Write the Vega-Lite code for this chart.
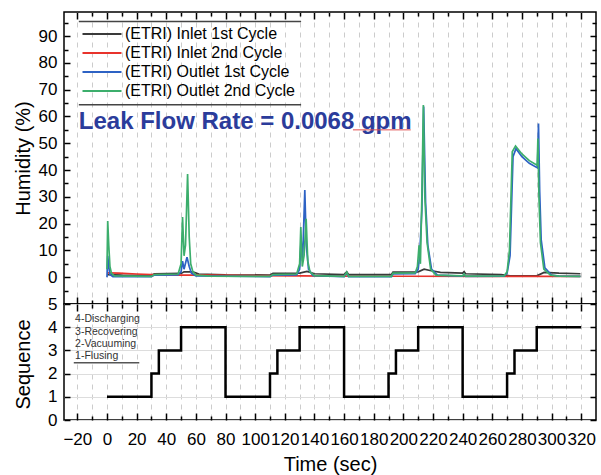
{
  "$schema": "https://vega.github.io/schema/vega-lite/v6.json",
  "padding": {"left": 12, "top": 10, "right": 5, "bottom": 5},
  "background": "white",
  "spacing": 0,
  "bounds": "flush",
  "config": {
    "font": "Liberation Sans",
    "view": {"stroke": "black", "strokeWidth": 1.5},
    "axis": {
      "labelFont": "Liberation Sans", "labelFontSize": 17, "labelColor": "black",
      "titleFont": "Liberation Sans", "titleFontSize": 20, "titleFontWeight": "normal", "titleColor": "black",
      "domain": false, "tickColor": "black", "tickWidth": 1.5, "grid": false
    }
  },
  "datasets": {
    "humidity": [
      {"series": "(ETRI) Inlet 1st Cycle", "time": 0, "humidity": 1.0},
      {"series": "(ETRI) Inlet 1st Cycle", "time": 10, "humidity": 0.8},
      {"series": "(ETRI) Inlet 1st Cycle", "time": 30, "humidity": 0.7},
      {"series": "(ETRI) Inlet 1st Cycle", "time": 32, "humidity": 1.3},
      {"series": "(ETRI) Inlet 1st Cycle", "time": 50, "humidity": 1.4},
      {"series": "(ETRI) Inlet 1st Cycle", "time": 52, "humidity": 2.0},
      {"series": "(ETRI) Inlet 1st Cycle", "time": 58, "humidity": 2.0},
      {"series": "(ETRI) Inlet 1st Cycle", "time": 62, "humidity": 1.2},
      {"series": "(ETRI) Inlet 1st Cycle", "time": 80, "humidity": 0.9},
      {"series": "(ETRI) Inlet 1st Cycle", "time": 110, "humidity": 0.8},
      {"series": "(ETRI) Inlet 1st Cycle", "time": 112, "humidity": 1.4},
      {"series": "(ETRI) Inlet 1st Cycle", "time": 130, "humidity": 1.5},
      {"series": "(ETRI) Inlet 1st Cycle", "time": 135, "humidity": 2.2},
      {"series": "(ETRI) Inlet 1st Cycle", "time": 140, "humidity": 1.3},
      {"series": "(ETRI) Inlet 1st Cycle", "time": 160, "humidity": 1.0},
      {"series": "(ETRI) Inlet 1st Cycle", "time": 161.8, "humidity": 2.0},
      {"series": "(ETRI) Inlet 1st Cycle", "time": 163, "humidity": 1.0},
      {"series": "(ETRI) Inlet 1st Cycle", "time": 192, "humidity": 1.0},
      {"series": "(ETRI) Inlet 1st Cycle", "time": 193, "humidity": 1.9},
      {"series": "(ETRI) Inlet 1st Cycle", "time": 210, "humidity": 2.0},
      {"series": "(ETRI) Inlet 1st Cycle", "time": 214, "humidity": 3.0},
      {"series": "(ETRI) Inlet 1st Cycle", "time": 218, "humidity": 2.5},
      {"series": "(ETRI) Inlet 1st Cycle", "time": 225, "humidity": 1.8},
      {"series": "(ETRI) Inlet 1st Cycle", "time": 240, "humidity": 1.5},
      {"series": "(ETRI) Inlet 1st Cycle", "time": 241, "humidity": 2.1},
      {"series": "(ETRI) Inlet 1st Cycle", "time": 242, "humidity": 1.3},
      {"series": "(ETRI) Inlet 1st Cycle", "time": 266, "humidity": 1.0},
      {"series": "(ETRI) Inlet 1st Cycle", "time": 272, "humidity": 0.5},
      {"series": "(ETRI) Inlet 1st Cycle", "time": 290, "humidity": 0.5},
      {"series": "(ETRI) Inlet 1st Cycle", "time": 295, "humidity": 1.8},
      {"series": "(ETRI) Inlet 1st Cycle", "time": 305, "humidity": 1.5},
      {"series": "(ETRI) Inlet 1st Cycle", "time": 319.5, "humidity": 1.3},

      {"series": "(ETRI) Inlet 2nd Cycle", "time": 0, "humidity": 1.6},
      {"series": "(ETRI) Inlet 2nd Cycle", "time": 8, "humidity": 1.5},
      {"series": "(ETRI) Inlet 2nd Cycle", "time": 20, "humidity": 1.2},
      {"series": "(ETRI) Inlet 2nd Cycle", "time": 30, "humidity": 1.0},
      {"series": "(ETRI) Inlet 2nd Cycle", "time": 50, "humidity": 0.8},
      {"series": "(ETRI) Inlet 2nd Cycle", "time": 70, "humidity": 0.8},
      {"series": "(ETRI) Inlet 2nd Cycle", "time": 100, "humidity": 0.6},
      {"series": "(ETRI) Inlet 2nd Cycle", "time": 130, "humidity": 0.5},
      {"series": "(ETRI) Inlet 2nd Cycle", "time": 160, "humidity": 0.4},
      {"series": "(ETRI) Inlet 2nd Cycle", "time": 200, "humidity": 0.35},
      {"series": "(ETRI) Inlet 2nd Cycle", "time": 260, "humidity": 0.3},
      {"series": "(ETRI) Inlet 2nd Cycle", "time": 319.5, "humidity": 0.3},

      {"series": "(ETRI) Outlet 1st Cycle", "time": 0, "humidity": 0.0},
      {"series": "(ETRI) Outlet 1st Cycle", "time": 0.5, "humidity": 8},
      {"series": "(ETRI) Outlet 1st Cycle", "time": 1.2, "humidity": 4},
      {"series": "(ETRI) Outlet 1st Cycle", "time": 2, "humidity": 1},
      {"series": "(ETRI) Outlet 1st Cycle", "time": 4, "humidity": 0.2},
      {"series": "(ETRI) Outlet 1st Cycle", "time": 30, "humidity": 0.2},
      {"series": "(ETRI) Outlet 1st Cycle", "time": 32, "humidity": 0.8},
      {"series": "(ETRI) Outlet 1st Cycle", "time": 48, "humidity": 0.9},
      {"series": "(ETRI) Outlet 1st Cycle", "time": 50, "humidity": 2},
      {"series": "(ETRI) Outlet 1st Cycle", "time": 51, "humidity": 6},
      {"series": "(ETRI) Outlet 1st Cycle", "time": 52, "humidity": 3},
      {"series": "(ETRI) Outlet 1st Cycle", "time": 54, "humidity": 7.5},
      {"series": "(ETRI) Outlet 1st Cycle", "time": 55.5, "humidity": 4},
      {"series": "(ETRI) Outlet 1st Cycle", "time": 57, "humidity": 1.5},
      {"series": "(ETRI) Outlet 1st Cycle", "time": 60, "humidity": 0.5},
      {"series": "(ETRI) Outlet 1st Cycle", "time": 110, "humidity": 0.2},
      {"series": "(ETRI) Outlet 1st Cycle", "time": 112, "humidity": 0.8},
      {"series": "(ETRI) Outlet 1st Cycle", "time": 128, "humidity": 0.9},
      {"series": "(ETRI) Outlet 1st Cycle", "time": 130, "humidity": 3},
      {"series": "(ETRI) Outlet 1st Cycle", "time": 131, "humidity": 14},
      {"series": "(ETRI) Outlet 1st Cycle", "time": 132, "humidity": 6},
      {"series": "(ETRI) Outlet 1st Cycle", "time": 133.5, "humidity": 32.5},
      {"series": "(ETRI) Outlet 1st Cycle", "time": 134.5, "humidity": 12},
      {"series": "(ETRI) Outlet 1st Cycle", "time": 136, "humidity": 3},
      {"series": "(ETRI) Outlet 1st Cycle", "time": 139, "humidity": 0.6},
      {"series": "(ETRI) Outlet 1st Cycle", "time": 160, "humidity": 0.2},
      {"series": "(ETRI) Outlet 1st Cycle", "time": 161.8, "humidity": 1.5},
      {"series": "(ETRI) Outlet 1st Cycle", "time": 163, "humidity": 0.2},
      {"series": "(ETRI) Outlet 1st Cycle", "time": 192, "humidity": 0.2},
      {"series": "(ETRI) Outlet 1st Cycle", "time": 193, "humidity": 1.2},
      {"series": "(ETRI) Outlet 1st Cycle", "time": 208, "humidity": 1.3},
      {"series": "(ETRI) Outlet 1st Cycle", "time": 210, "humidity": 3},
      {"series": "(ETRI) Outlet 1st Cycle", "time": 211, "humidity": 8},
      {"series": "(ETRI) Outlet 1st Cycle", "time": 212.5, "humidity": 25},
      {"series": "(ETRI) Outlet 1st Cycle", "time": 213.7, "humidity": 63.7},
      {"series": "(ETRI) Outlet 1st Cycle", "time": 215, "humidity": 28},
      {"series": "(ETRI) Outlet 1st Cycle", "time": 216.5, "humidity": 12},
      {"series": "(ETRI) Outlet 1st Cycle", "time": 219, "humidity": 3},
      {"series": "(ETRI) Outlet 1st Cycle", "time": 223, "humidity": 0.8},
      {"series": "(ETRI) Outlet 1st Cycle", "time": 240, "humidity": 0.4},
      {"series": "(ETRI) Outlet 1st Cycle", "time": 241, "humidity": 1.0},
      {"series": "(ETRI) Outlet 1st Cycle", "time": 242, "humidity": 0.3},
      {"series": "(ETRI) Outlet 1st Cycle", "time": 268, "humidity": 0.4},
      {"series": "(ETRI) Outlet 1st Cycle", "time": 270, "humidity": 1.5},
      {"series": "(ETRI) Outlet 1st Cycle", "time": 272, "humidity": 8},
      {"series": "(ETRI) Outlet 1st Cycle", "time": 274, "humidity": 45},
      {"series": "(ETRI) Outlet 1st Cycle", "time": 276, "humidity": 48},
      {"series": "(ETRI) Outlet 1st Cycle", "time": 280, "humidity": 45},
      {"series": "(ETRI) Outlet 1st Cycle", "time": 285, "humidity": 42.5},
      {"series": "(ETRI) Outlet 1st Cycle", "time": 290.5, "humidity": 40.8},
      {"series": "(ETRI) Outlet 1st Cycle", "time": 291.2, "humidity": 57.4},
      {"series": "(ETRI) Outlet 1st Cycle", "time": 292, "humidity": 32},
      {"series": "(ETRI) Outlet 1st Cycle", "time": 293, "humidity": 14},
      {"series": "(ETRI) Outlet 1st Cycle", "time": 295.5, "humidity": 3.5},
      {"series": "(ETRI) Outlet 1st Cycle", "time": 300, "humidity": 0.8},
      {"series": "(ETRI) Outlet 1st Cycle", "time": 305, "humidity": 0.4},
      {"series": "(ETRI) Outlet 1st Cycle", "time": 319.5, "humidity": 0.3},

      {"series": "(ETRI) Outlet 2nd Cycle", "time": 0, "humidity": 3},
      {"series": "(ETRI) Outlet 2nd Cycle", "time": 0.5, "humidity": 21},
      {"series": "(ETRI) Outlet 2nd Cycle", "time": 1.2, "humidity": 12},
      {"series": "(ETRI) Outlet 2nd Cycle", "time": 2, "humidity": 4},
      {"series": "(ETRI) Outlet 2nd Cycle", "time": 3, "humidity": 1.5},
      {"series": "(ETRI) Outlet 2nd Cycle", "time": 5, "humidity": 0.5},
      {"series": "(ETRI) Outlet 2nd Cycle", "time": 30, "humidity": 0.3},
      {"series": "(ETRI) Outlet 2nd Cycle", "time": 32, "humidity": 1.0},
      {"series": "(ETRI) Outlet 2nd Cycle", "time": 48, "humidity": 1.2},
      {"series": "(ETRI) Outlet 2nd Cycle", "time": 50, "humidity": 5},
      {"series": "(ETRI) Outlet 2nd Cycle", "time": 51, "humidity": 22.5},
      {"series": "(ETRI) Outlet 2nd Cycle", "time": 52, "humidity": 8},
      {"series": "(ETRI) Outlet 2nd Cycle", "time": 53, "humidity": 12},
      {"series": "(ETRI) Outlet 2nd Cycle", "time": 54.4, "humidity": 38.5},
      {"series": "(ETRI) Outlet 2nd Cycle", "time": 55.5, "humidity": 15},
      {"series": "(ETRI) Outlet 2nd Cycle", "time": 56.5, "humidity": 5},
      {"series": "(ETRI) Outlet 2nd Cycle", "time": 58, "humidity": 2},
      {"series": "(ETRI) Outlet 2nd Cycle", "time": 60, "humidity": 0.8},
      {"series": "(ETRI) Outlet 2nd Cycle", "time": 70, "humidity": 0.4},
      {"series": "(ETRI) Outlet 2nd Cycle", "time": 110, "humidity": 0.3},
      {"series": "(ETRI) Outlet 2nd Cycle", "time": 112, "humidity": 1.0},
      {"series": "(ETRI) Outlet 2nd Cycle", "time": 128, "humidity": 1.2},
      {"series": "(ETRI) Outlet 2nd Cycle", "time": 130, "humidity": 5},
      {"series": "(ETRI) Outlet 2nd Cycle", "time": 130.8, "humidity": 18.7},
      {"series": "(ETRI) Outlet 2nd Cycle", "time": 131.8, "humidity": 4},
      {"series": "(ETRI) Outlet 2nd Cycle", "time": 133, "humidity": 8},
      {"series": "(ETRI) Outlet 2nd Cycle", "time": 134.4, "humidity": 21.8},
      {"series": "(ETRI) Outlet 2nd Cycle", "time": 135.5, "humidity": 6},
      {"series": "(ETRI) Outlet 2nd Cycle", "time": 137, "humidity": 2},
      {"series": "(ETRI) Outlet 2nd Cycle", "time": 140, "humidity": 0.6},
      {"series": "(ETRI) Outlet 2nd Cycle", "time": 160, "humidity": 0.3},
      {"series": "(ETRI) Outlet 2nd Cycle", "time": 161.8, "humidity": 1.9},
      {"series": "(ETRI) Outlet 2nd Cycle", "time": 163, "humidity": 0.3},
      {"series": "(ETRI) Outlet 2nd Cycle", "time": 192, "humidity": 0.3},
      {"series": "(ETRI) Outlet 2nd Cycle", "time": 193, "humidity": 1.5},
      {"series": "(ETRI) Outlet 2nd Cycle", "time": 208, "humidity": 1.6},
      {"series": "(ETRI) Outlet 2nd Cycle", "time": 209.5, "humidity": 4},
      {"series": "(ETRI) Outlet 2nd Cycle", "time": 210.6, "humidity": 11.9},
      {"series": "(ETRI) Outlet 2nd Cycle", "time": 211.5, "humidity": 5},
      {"series": "(ETRI) Outlet 2nd Cycle", "time": 212.5, "humidity": 30},
      {"series": "(ETRI) Outlet 2nd Cycle", "time": 213.5, "humidity": 64.3},
      {"series": "(ETRI) Outlet 2nd Cycle", "time": 214.5, "humidity": 30},
      {"series": "(ETRI) Outlet 2nd Cycle", "time": 216, "humidity": 13},
      {"series": "(ETRI) Outlet 2nd Cycle", "time": 218.4, "humidity": 3},
      {"series": "(ETRI) Outlet 2nd Cycle", "time": 222, "humidity": 0.8},
      {"series": "(ETRI) Outlet 2nd Cycle", "time": 240, "humidity": 0.5},
      {"series": "(ETRI) Outlet 2nd Cycle", "time": 241, "humidity": 1.2},
      {"series": "(ETRI) Outlet 2nd Cycle", "time": 242, "humidity": 0.4},
      {"series": "(ETRI) Outlet 2nd Cycle", "time": 268, "humidity": 0.5},
      {"series": "(ETRI) Outlet 2nd Cycle", "time": 270, "humidity": 2},
      {"series": "(ETRI) Outlet 2nd Cycle", "time": 271.6, "humidity": 10},
      {"series": "(ETRI) Outlet 2nd Cycle", "time": 273.5, "humidity": 46.8},
      {"series": "(ETRI) Outlet 2nd Cycle", "time": 275.7, "humidity": 49},
      {"series": "(ETRI) Outlet 2nd Cycle", "time": 280, "humidity": 46},
      {"series": "(ETRI) Outlet 2nd Cycle", "time": 285, "humidity": 43.5},
      {"series": "(ETRI) Outlet 2nd Cycle", "time": 290.3, "humidity": 41.8},
      {"series": "(ETRI) Outlet 2nd Cycle", "time": 290.8, "humidity": 51.8},
      {"series": "(ETRI) Outlet 2nd Cycle", "time": 291.5, "humidity": 30},
      {"series": "(ETRI) Outlet 2nd Cycle", "time": 292.5, "humidity": 13},
      {"series": "(ETRI) Outlet 2nd Cycle", "time": 294.8, "humidity": 3},
      {"series": "(ETRI) Outlet 2nd Cycle", "time": 299.3, "humidity": 0.8},
      {"series": "(ETRI) Outlet 2nd Cycle", "time": 305, "humidity": 0.4},
      {"series": "(ETRI) Outlet 2nd Cycle", "time": 319.5, "humidity": 0.3}
    ],
    "sequence": [
      {"time": 0, "step": 1}, {"time": 30, "step": 2}, {"time": 35, "step": 3}, {"time": 50, "step": 4},
      {"time": 80, "step": 1}, {"time": 110, "step": 2}, {"time": 115, "step": 3}, {"time": 130, "step": 4},
      {"time": 160, "step": 1}, {"time": 190, "step": 2}, {"time": 195, "step": 3}, {"time": 210, "step": 4},
      {"time": 240, "step": 1}, {"time": 270, "step": 2}, {"time": 275, "step": 3}, {"time": 290, "step": 4},
      {"time": 320, "step": 4}
    ],
    "note": [{"label": "Leak Flow Rate = 0.0068 gpm"}],
    "steps": [{"label": "4-Discharging\n3-Recovering\n2-Vacuuming\n1-Flusing"}],
    "one": [{}]
  },
  "vconcat": [
    {
      "width": 532,
      "height": 292,
      "resolve": {"axis": {"x": "independent", "y": "independent"}},
      "layer": [
        {
          "data": {"name": "humidity"},
          "mark": {"type": "line", "strokeWidth": 1.7, "clip": true},
          "encoding": {
            "x": {"field": "time", "type": "quantitative",
              "scale": {"domain": [-29, 330], "nice": false, "zero": false},
              "axis": {"orient": "bottom", "title": null, "labels": false,
                "values": [-20,-10,0,10,20,30,40,50,60,70,80,90,100,110,120,130,140,150,160,170,180,190,200,210,220,230,240,250,260,270,280,290,300,310,320],
                "tickSize": {"condition": {"test": "datum.value % 20 === 0", "value": -7}, "value": -4},
                "grid": true, "gridColor": "#cccccc", "gridDash": [5, 5], "gridWidth": 1}},
            "y": {"field": "humidity", "type": "quantitative",
              "scale": {"domain": [-10, 99], "nice": false, "zero": false},
              "axis": {"orient": "left", "title": "Humidity (%)", "titleX": -41, "titleY": 146, "titleAngle": -90, "titleAlign": "center", "titleBaseline": "middle",
                "values": [-5,0,5,10,15,20,25,30,35,40,45,50,55,60,65,70,75,80,85,90,95],
                "labelExpr": "datum.value % 10 === 0 && datum.value >= 0 ? datum.label : ''",
                "labelPadding": 13,
                "tickSize": {"condition": {"test": "datum.value % 10 === 0", "value": -6}, "value": -4}}},
            "color": {"field": "series", "type": "nominal",
              "sort": ["(ETRI) Inlet 1st Cycle", "(ETRI) Inlet 2nd Cycle", "(ETRI) Outlet 1st Cycle", "(ETRI) Outlet 2nd Cycle"],
              "scale": {"domain": ["(ETRI) Inlet 1st Cycle", "(ETRI) Inlet 2nd Cycle", "(ETRI) Outlet 1st Cycle", "(ETRI) Outlet 2nd Cycle"],
                        "range": ["#3a3a3a", "#e8332c", "#2d62c4", "#3cae6c"]},
              "legend": {"orient": "none", "legendX": 27, "legendY": 11, "title": null, "padding": 0,
                "symbolType": "M-2,0H2", "symbolSize": 380, "symbolStrokeWidth": 2, "symbolFillColor": "transparent",
                "labelFont": "Liberation Sans", "labelFontSize": 16, "labelColor": "black", "labelOffset": 12,
                "labelLimit": 300, "rowPadding": -2}}
          }
        },
        {
          "data": {"name": "note"},
          "mark": {"type": "text", "align": "left", "baseline": "middle", "font": "Liberation Sans", "fontWeight": "bold", "fontSize": 24, "color": "#2b3c9b"},
          "encoding": {
            "text": {"field": "label"},
            "x": {"datum": -19, "type": "quantitative", "scale": {"domain": [-29, 330], "nice": false, "zero": false},
              "axis": {"orient": "top", "title": null, "labels": false,
                "values": [-20,-10,0,10,20,30,40,50,60,70,80,90,100,110,120,130,140,150,160,170,180,190,200,210,220,230,240,250,260,270,280,290,300,310,320],
                "tickSize": {"condition": {"test": "datum.value % 20 === 0", "value": -7}, "value": -4}}},
            "y": {"datum": 58, "type": "quantitative", "scale": {"domain": [-10, 99], "nice": false, "zero": false},
              "axis": {"orient": "right", "title": null, "labels": false,
                "values": [-5,0,5,10,15,20,25,30,35,40,45,50,55,60,65,70,75,80,85,90,95],
                "tickSize": {"condition": {"test": "datum.value % 10 === 0", "value": -6}, "value": -4}}}
          }
        },
        {
          "data": {"name": "one"},
          "mark": {"type": "rule", "color": "#444444", "strokeWidth": 1.5},
          "encoding": {
            "x": {"datum": -19, "type": "quantitative", "axis": null},
            "x2": {"datum": 131},
            "y": {"datum": 95.5, "type": "quantitative", "axis": null}
          }
        },
        {
          "data": {"name": "one"},
          "mark": {"type": "rule", "color": "#444444", "strokeWidth": 1.5},
          "encoding": {
            "x": {"datum": -19, "type": "quantitative", "axis": null},
            "x2": {"datum": 131},
            "y": {"datum": 64.4, "type": "quantitative", "axis": null}
          }
        },
        {
          "data": {"name": "one"},
          "mark": {"type": "rule", "color": "#e05050", "strokeWidth": 1},
          "encoding": {
            "x": {"datum": 166, "type": "quantitative", "axis": null},
            "x2": {"datum": 205},
            "y": {"datum": 55, "type": "quantitative", "axis": null}
          }
        }
      ]
    },
    {
      "width": 532,
      "height": 116,
      "resolve": {"axis": {"x": "independent", "y": "independent"}},
      "layer": [
        {
          "data": {"name": "sequence"},
          "mark": {"type": "line", "interpolate": "step-after", "color": "black", "strokeWidth": 2.5},
          "encoding": {
            "x": {"field": "time", "type": "quantitative",
              "scale": {"domain": [-29, 330], "nice": false, "zero": false},
              "axis": {"orient": "bottom", "title": "Time (sec)", "titleY": 44, "titleBaseline": "middle",
                "values": [-20,-10,0,10,20,30,40,50,60,70,80,90,100,110,120,130,140,150,160,170,180,190,200,210,220,230,240,250,260,270,280,290,300,310,320],
                "labelExpr": "datum.value % 20 === 0 ? datum.label : ''",
                "labelPadding": 18,
                "tickSize": {"condition": {"test": "datum.value % 20 === 0", "value": -7}, "value": -4},
                "grid": true, "gridColor": "#cccccc", "gridDash": [5, 5], "gridWidth": 1}},
            "y": {"field": "step", "type": "quantitative",
              "scale": {"domain": [0, 5], "nice": false},
              "axis": {"orient": "left", "title": "Sequence", "titleX": -41, "titleY": 60, "titleAngle": -90, "titleAlign": "center", "titleBaseline": "middle",
                "values": [0, 1, 2, 3, 4, 5], "labelPadding": 13, "tickSize": -6,
                "grid": true, "gridColor": "#dddddd", "gridWidth": 1}}
          }
        },
        {
          "data": {"name": "steps"},
          "transform": [{"calculate": "split(datum.label, '\\n')", "as": "lines"}],
          "mark": {"type": "text", "align": "left", "baseline": "top", "fontSize": 10.5, "color": "#333333", "lineHeight": 12.3},
          "encoding": {
            "text": {"field": "lines"},
            "x": {"datum": -21.5, "type": "quantitative", "scale": {"domain": [-29, 330], "nice": false, "zero": false},
              "axis": {"orient": "top", "title": null, "labels": false,
                "values": [-20,-10,0,10,20,30,40,50,60,70,80,90,100,110,120,130,140,150,160,170,180,190,200,210,220,230,240,250,260,270,280,290,300,310,320],
                "tickSize": {"condition": {"test": "datum.value % 20 === 0", "value": -7}, "value": -4}}},
            "y": {"datum": 4.55, "type": "quantitative", "scale": {"domain": [0, 5], "nice": false},
              "axis": {"orient": "right", "title": null, "labels": false, "values": [0, 1, 2, 3, 4, 5], "tickSize": -6}}
          }
        },
        {
          "data": {"name": "one"},
          "mark": {"type": "rule", "color": "#555555", "strokeWidth": 1.5},
          "encoding": {
            "x": {"datum": -22.4, "type": "quantitative", "axis": null},
            "x2": {"datum": 21.8},
            "y": {"datum": 2.47, "type": "quantitative", "axis": null}
          }
        }
      ]
    }
  ]
}
